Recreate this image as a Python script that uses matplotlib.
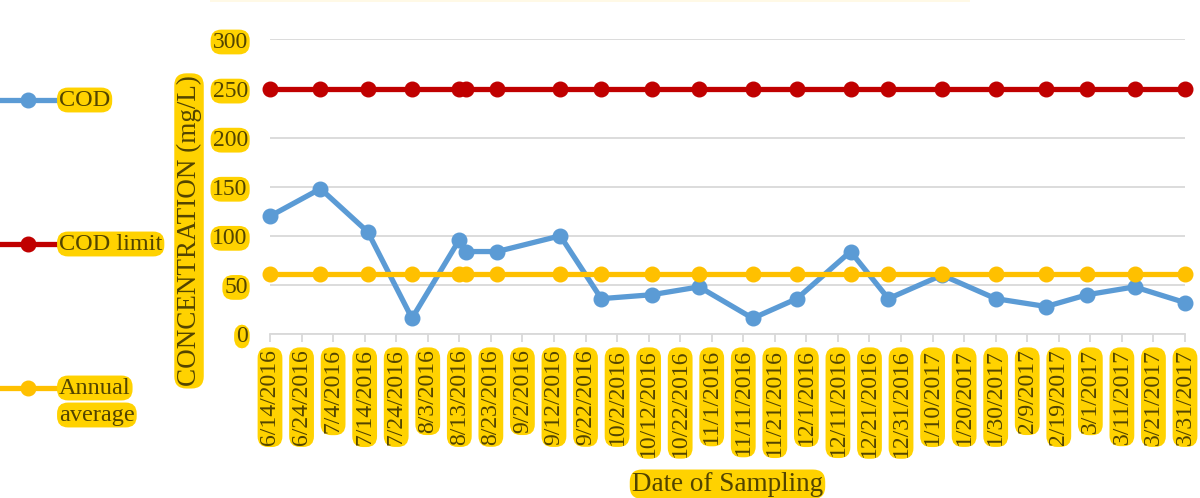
import pandas as pd
import matplotlib
matplotlib.use('Agg')
import matplotlib.pyplot as plt
from matplotlib.lines import Line2D
from matplotlib.patches import Rectangle

plt.rcParams['font.family'] = ['Liberation Serif', 'DejaVu Serif']

# sampling dates and measured values (mg/L)
sample_dates = ['2016-06-14', '2016-06-30', '2016-07-15', '2016-07-29', '2016-08-13',
                '2016-08-15', '2016-08-25', '2016-09-14', '2016-09-27', '2016-10-13',
                '2016-10-28', '2016-11-14', '2016-11-28', '2016-12-15', '2016-12-27',
                '2017-01-13', '2017-01-30', '2017-02-15', '2017-02-28', '2017-03-15',
                '2017-03-31']
cod = [120, 148, 104, 16, 96, 84, 84, 100, 36, 40, 48, 16, 36, 84, 36, 60, 36, 28, 40, 48, 32]
cod_limit = [250] * 21
annual_avg = [61.5] * 21

BLUE = '#5B9BD5'
RED = '#C00000'
GOLD = '#FFC000'
BOX = '#FFD200'
TXT = '#524400'
GRID = '#D9D9D9'

box = dict(boxstyle='round,pad=0.08,rounding_size=0.45', fc=BOX, ec='none')

fig = plt.figure(figsize=(12, 4.98), dpi=100)
ax = fig.add_axes([270 / 1200, 1 - 334 / 498, 915 / 1200, 294.5 / 498])

x = pd.to_datetime(sample_dates)
ax.plot(x, cod, color=BLUE, lw=3.8, marker='o', ms=10.5, clip_on=False, zorder=3)
ax.plot(x, cod_limit, color=RED, lw=3.8, marker='o', ms=10.5, clip_on=False, zorder=4)
ax.plot(x, annual_avg, color=GOLD, lw=3.8, marker='o', ms=10.5, clip_on=False, zorder=5)

ax.set_xlim(x[0], x[-1])
ax.set_ylim(0, 300)
ax.set_yticks(range(0, 301, 50))
ax.grid(axis='y', color=GRID, lw=1.3)
ax.set_axisbelow(True)
for s in ['left', 'top', 'right']:
    ax.spines[s].set_visible(False)
ax.spines['bottom'].set_color(GRID)
ax.spines['bottom'].set_linewidth(1.3)

ticks = pd.date_range('2016-06-14', '2017-03-31', freq='10D')
ax.set_xticks(ticks)
ax.set_xticklabels([f"{d.month}/{d.day}/{d.year}" for d in ticks],
                   rotation=90, va='top', ha='center')
ax.tick_params(axis='x', length=6, color=GRID, width=1.3, pad=5)
ax.tick_params(axis='y', length=0, pad=16)
for lbl in ax.get_xticklabels() + ax.get_yticklabels():
    lbl.set_bbox(box)
    lbl.set_color(TXT)
    lbl.set_fontsize(17)

ax.set_ylabel('CONCENTRATION (mg/L)', fontsize=19.5, color=TXT, bbox=box)
ax.yaxis.set_label_coords(-0.0885, 0.35)
ax.yaxis.label.set_va('center')
ax.set_xlabel('Date of Sampling', fontsize=19.5, color=TXT, bbox=box)
ax.xaxis.set_label_coords(0.5, -0.51)
ax.xaxis.label.set_va('center')

# legend on the left
leg = [('COD', BLUE, 100), ('COD limit', RED, 244), ('Annual', GOLD, 388)]
for name, col, ypx in leg:
    yf = 1 - ypx / 498
    fig.add_artist(Line2D([0, 55 / 1200], [yf, yf], color=col, lw=3.8,
                          transform=fig.transFigure))
    fig.add_artist(Line2D([28 / 1200], [yf], color=col, marker='o', ms=10.5,
                          transform=fig.transFigure))
    fig.text(59 / 1200, yf, name, fontsize=17.5, color=TXT, va='center', ha='left', bbox=box)
fig.text(59 / 1200, 1 - 415 / 498, 'average', fontsize=17.5, color=TXT,
         va='center', ha='left', bbox=box)

# faint edge of the cut-off title box
fig.add_artist(Rectangle((210 / 1200, 1 - 2 / 498), 760 / 1200, 2 / 498,
                         transform=fig.transFigure, fc='#FFF9E6', ec='none'))

fig.savefig('out.png', dpi=100)
